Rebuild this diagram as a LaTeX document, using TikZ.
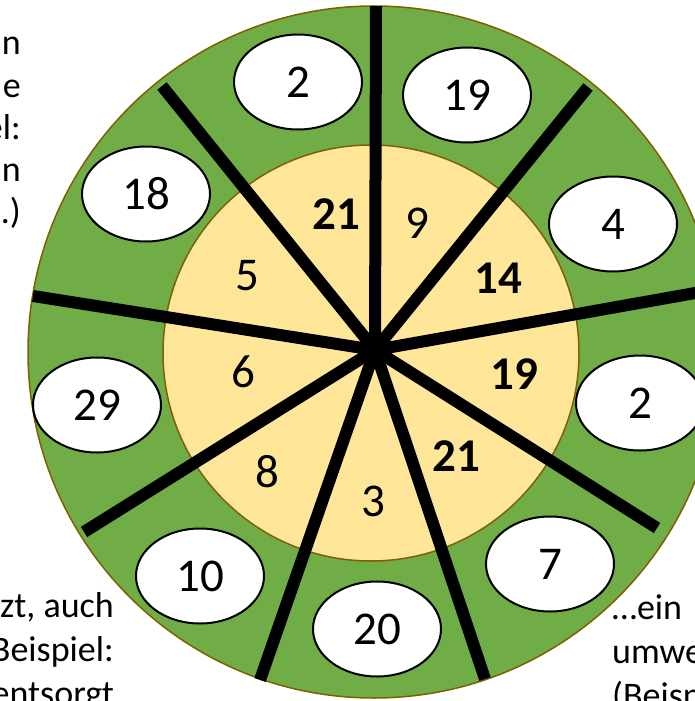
\documentclass[tikz,border=0pt]{standalone}
\usepackage{fontspec}
\setmainfont{Carlito}
\usetikzlibrary{shapes.geometric}
\definecolor{ringgreen}{HTML}{70AD47}
\definecolor{coreyellow}{HTML}{FFE699}
\definecolor{rimbrown}{HTML}{7F6000}
\begin{document}
\begin{tikzpicture}[x=1pt,y=-1pt,
  numfont/.style={font=\fontsize{47}{56}\selectfont},
  oval/.style={ellipse, draw=black, line width=2pt, fill=white, minimum width=128pt, minimum height=95pt, inner sep=0pt, numfont},
  spoke/.style={line width=12pt, line cap=butt},
  txt/.style={font=\fontsize{36}{44}\selectfont, inner sep=0pt}]
\useasboundingbox (0,0) rectangle (695,701);
\clip (0,0) rectangle (695,701);
% rings
\filldraw[fill=ringgreen, draw=rimbrown, line width=1.5pt] (374,352) circle[radius=346];
\filldraw[fill=coreyellow, draw=rimbrown, line width=1.5pt] (371,353) circle[radius=208];
% spokes
\coordinate (hub) at (375,350);
\coordinate (s1) at (376,6);
\coordinate (s2) at (588,87);
\coordinate (s3) at (712,290);
\coordinate (s4) at (657,528);
\coordinate (s5) at (485,679);
\coordinate (s6) at (260,680);
\coordinate (s7) at (84,532);
\coordinate (s8) at (33,296);
\coordinate (s9) at (162,86);
\foreach \e in {s1,s2,s3,s4,s5,s6,s7,s8,s9} \draw[spoke] (hub) -- (\e);
\fill (hub) circle[radius=7];
% outer ovals
\node[oval] (o1) at (298,82) {2};
\node[oval] (o2) at (467,95) {19};
\node[oval] (o3) at (613,224) {4};
\node[oval] (o4) at (640,403) {2};
\node[oval] (o5) at (550,564) {7};
\node[oval] (o6) at (377,629) {20};
\node[oval] (o7) at (200,576) {10};
\node[oval] (o8) at (97,405) {29};
\node[oval] (o9) at (146,194) {18};
% inner numbers
\node[numfont] (i1) at (336,214) {\textbf{21}};
\node[numfont] (i2) at (417,223) {9};
\node[numfont] (i3) at (498,278) {\textbf{14}};
\node[numfont] (i4) at (514,374) {\textbf{19}};
\node[numfont] (i5) at (456,456) {\textbf{21}};
\node[numfont] (i6) at (373,501) {3};
\node[numfont] (i7) at (267,472) {8};
\node[numfont] (i8) at (243,372) {6};
\node[numfont] (i9) at (247,276) {5};
% side texts
\node[txt, anchor=base east] (ta1) at (21,55) {n};
\node[txt, anchor=base east] (ta2) at (21,97) {e};
\node[txt, anchor=base east] (ta3) at (21,139) {el:};
\node[txt, anchor=base east] (ta4) at (21,181) {n};
\node[txt, anchor=base east] (ta5) at (21,223) {.)};
\node[txt, anchor=base east] (tb1) at (114,617) {zt, auch};
\node[txt, anchor=base east] (tb2) at (114,661) {Beispiel:};
\node[txt, anchor=base east] (tb3) at (114,705) {entsorgt};
\node[txt, anchor=base west] (tc1) at (612,619) {…ein};
\node[txt, anchor=base west] (tc2) at (612,663) {umwe};
\node[txt, anchor=base west] (tc3) at (612,707) {(Beisp};
\end{tikzpicture}
\end{document}
